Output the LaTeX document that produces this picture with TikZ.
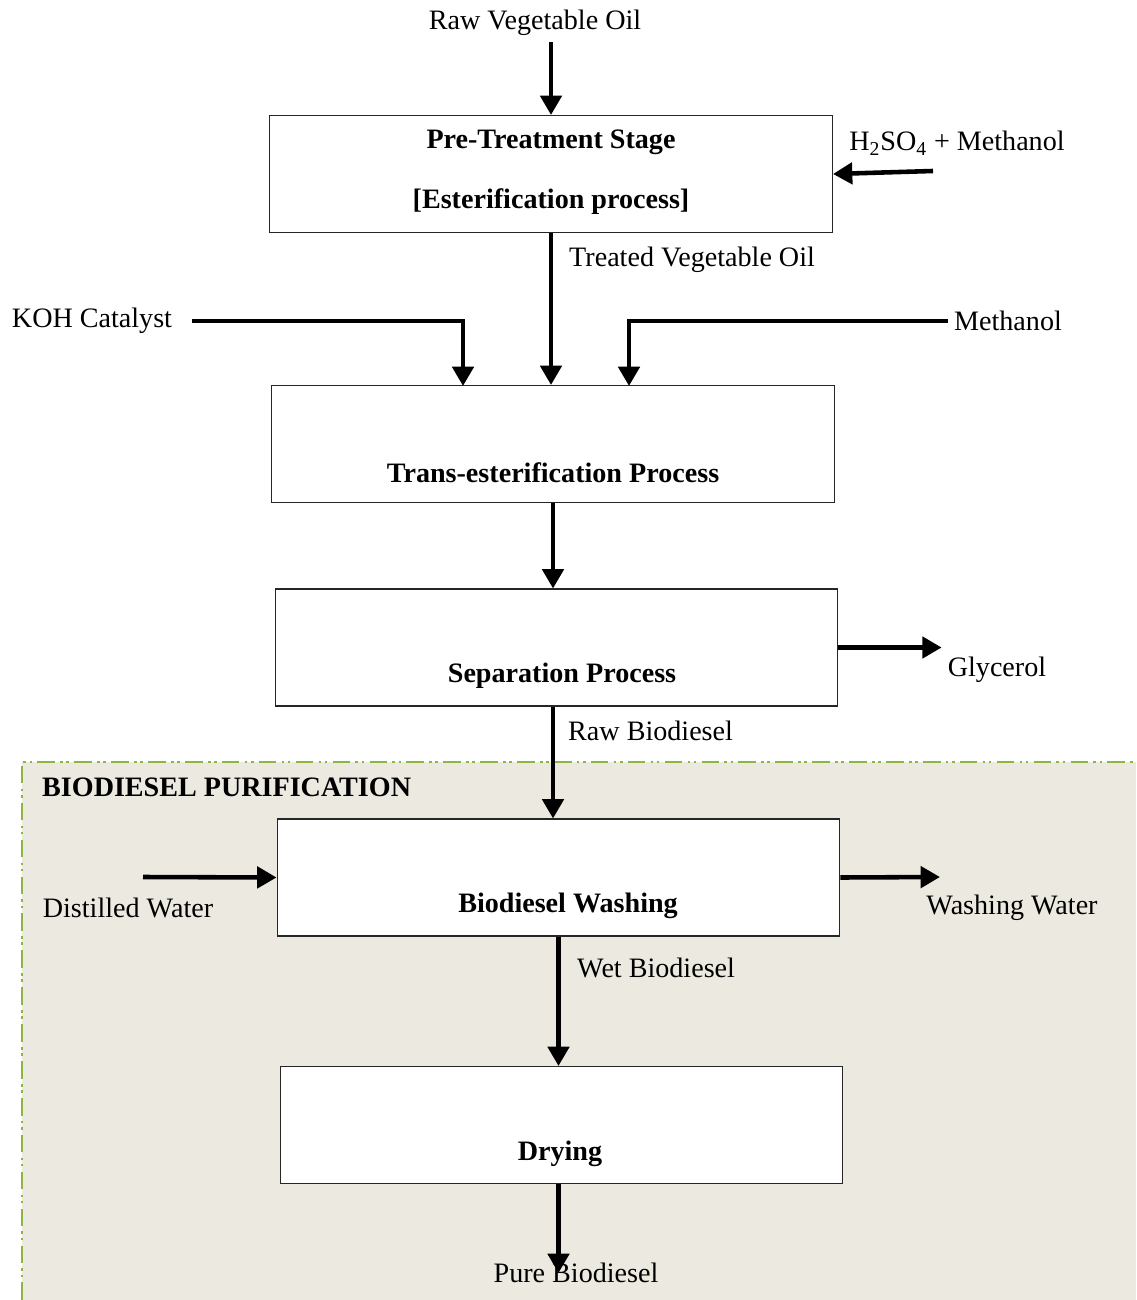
\documentclass[tikz,border=0pt]{standalone}
\usepackage{fontspec}
\setmainfont{Liberation Serif}
\usetikzlibrary{arrows.meta}
\definecolor{purfill}{HTML}{ECEAE0}
\definecolor{purline}{HTML}{8DB53F}
\tikzset{
  stage/.style={draw=black!85, line width=0.6pt, fill=white, minimum width=11.26cm, minimum height=2.34cm, inner sep=0pt},
  stagetext/.style={font=\fontsize{16}{19}\selectfont\bfseries},
  lbl/.style={font=\fontsize{16}{19}\selectfont},
  flow/.style={line width=2.6pt, -{Triangle[length=11pt,width=12pt]}},
}
\begin{document}
\begin{tikzpicture}[x=0.02cm, y=-0.02cm]
		%%%%% START %%%%%
		\useasboundingbox (0,0) rectangle (1136,1300);
		
		% purification area
		\fill[purfill] (22,762) rectangle (1136,1300);
		\draw[purline, line width=1.6pt, dash pattern=on 10pt off 3pt on 1.5pt off 2pt on 1.5pt off 3pt] (22,1300) -- (22,762) -- (1136,762);
		\node[stagetext, anchor=west] (purtitle) at (36,787) {BIODIESEL PURIFICATION};
		
		% process boxes
		\node[stage] (pretreat) at (551,174) {};
		\node[stagetext] (pretreattop) at (551,142) {Pre-Treatment Stage};
		\node[stagetext] (pretreatbot) at (551,202) {[Esterification process]};
		
		\node[stage] (trans) at (553,444) {};
		\node[stagetext] (transtext) at (553,473) {Trans-esterification Process};
		
		\node[stage] (sep) at (556.5,647.5) {};
		\node[stagetext] (septext) at (562,676) {Separation Process};
		
		\node[stage] (wash) at (558.5,877.5) {};
		\node[stagetext] (washtext) at (568,906) {Biodiesel Washing};
		
		\node[stage] (dry) at (561.5,1125) {};
		\node[stagetext] (drytext) at (560,1154) {Drying};
		
		% streams in and out
		\node[lbl] (rawoil) at (535,23) {Raw Vegetable Oil};
		\node[lbl] (acid) at (957,143) {H\textsubscript{2}SO\textsubscript{4} + Methanol};
		\node[lbl, anchor=west] (treated) at (563,260) {Treated Vegetable Oil};
		\node[lbl] (koh) at (92,321) {KOH Catalyst};
		\node[lbl] (meth) at (1008,321) {Methanol};
		\node[lbl] (glycerol) at (997,670) {Glycerol};
		\node[lbl, anchor=west] (rawbio) at (562,731) {Raw Biodiesel};
		\node[lbl] (water) at (128,908) {Distilled Water};
		\node[lbl] (washwater) at (1012,908) {Washing Water};
		\node[lbl, anchor=west] (wetbio) at (571,968) {Wet Biodiesel};
		\node[lbl] (pure) at (576,1273) {Pure Biodiesel};
		
		\coordinate (acidin) at (933,171);
		\coordinate (kohin) at (463,386);
		\coordinate (methin) at (629,386);
		\coordinate (waterin) at (143,877);
		\coordinate (washout) at (940,877);
		
		% arrows
		\draw[flow] (pretreat.north |- rawoil.south) -- (pretreat.north);
		\draw[flow] (acidin) -- (pretreat.east);
		\draw[flow] (pretreat.south) -- (pretreat.south |- trans.north);
		\draw[flow] ([xshift=8pt]koh.east) -| (kohin);
		\draw[flow] (meth.west) -| (methin);
		\draw[flow] (trans.south) -- (trans.south |- sep.north);
		\draw[flow] (sep.east) -- (sep.east -| glycerol.west);
		\draw[flow] (sep.south -| trans.south) -- (trans.south |- wash.north);
		\draw[flow] (waterin) -- (wash.west);
		\draw[flow] (wash.east) -- (washout);
		\draw[flow] (wash.south) -- (wash.south |- dry.north);
		\draw[flow] (dry.south -| wash.south) -- (wash.south |- pure.center);
		
		%%%%% END %%%%%
\end{tikzpicture}
\end{document}
